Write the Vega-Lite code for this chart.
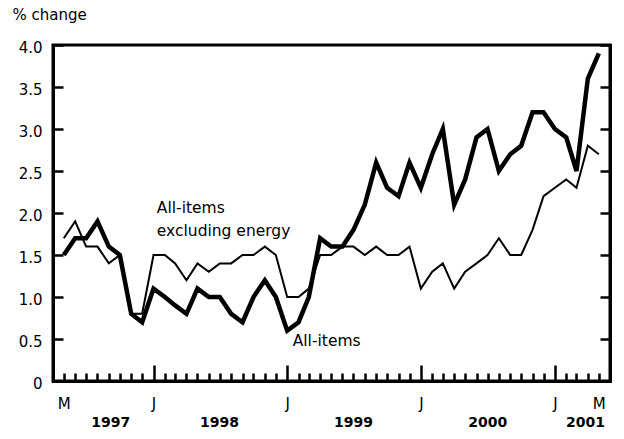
{
  "$schema": "https://vega.github.io/schema/vega-lite/v6.json",
  "width": 557,
  "height": 336,
  "autosize": {"type": "none"},
  "padding": {"left": 53, "top": 45, "right": 14, "bottom": 58},
  "background": "white",
  "config": {
    "view": {"stroke": null},
    "font": "DejaVu Sans",
    "axis": {
      "labelFont": "DejaVu Sans",
      "labelFontSize": 15,
      "labelColor": "black",
      "tickColor": "black",
      "tickWidth": 2.5,
      "grid": false,
      "domain": true,
      "domainColor": "black",
      "domainWidth": 3,
      "domainCap": "square",
      "titleFont": "DejaVu Sans",
      "titleColor": "black"
    }
  },
  "data": {
    "values": [
      {"date": "1997-05-01", "all": 1.5, "ex": 1.7},
      {"date": "1997-06-01", "all": 1.7, "ex": 1.9},
      {"date": "1997-07-01", "all": 1.7, "ex": 1.6},
      {"date": "1997-08-01", "all": 1.9, "ex": 1.6},
      {"date": "1997-09-01", "all": 1.6, "ex": 1.4},
      {"date": "1997-10-01", "all": 1.5, "ex": 1.5},
      {"date": "1997-11-01", "all": 0.8, "ex": 0.8},
      {"date": "1997-12-01", "all": 0.7, "ex": 0.8},
      {"date": "1998-01-01", "all": 1.1, "ex": 1.5},
      {"date": "1998-02-01", "all": 1.0, "ex": 1.5},
      {"date": "1998-03-01", "all": 0.9, "ex": 1.4},
      {"date": "1998-04-01", "all": 0.8, "ex": 1.2},
      {"date": "1998-05-01", "all": 1.1, "ex": 1.4},
      {"date": "1998-06-01", "all": 1.0, "ex": 1.3},
      {"date": "1998-07-01", "all": 1.0, "ex": 1.4},
      {"date": "1998-08-01", "all": 0.8, "ex": 1.4},
      {"date": "1998-09-01", "all": 0.7, "ex": 1.5},
      {"date": "1998-10-01", "all": 1.0, "ex": 1.5},
      {"date": "1998-11-01", "all": 1.2, "ex": 1.6},
      {"date": "1998-12-01", "all": 1.0, "ex": 1.5},
      {"date": "1999-01-01", "all": 0.6, "ex": 1.0},
      {"date": "1999-02-01", "all": 0.7, "ex": 1.0},
      {"date": "1999-03-01", "all": 1.0, "ex": 1.1},
      {"date": "1999-04-01", "all": 1.7, "ex": 1.5},
      {"date": "1999-05-01", "all": 1.6, "ex": 1.5},
      {"date": "1999-06-01", "all": 1.6, "ex": 1.6},
      {"date": "1999-07-01", "all": 1.8, "ex": 1.6},
      {"date": "1999-08-01", "all": 2.1, "ex": 1.5},
      {"date": "1999-09-01", "all": 2.6, "ex": 1.6},
      {"date": "1999-10-01", "all": 2.3, "ex": 1.5},
      {"date": "1999-11-01", "all": 2.2, "ex": 1.5},
      {"date": "1999-12-01", "all": 2.6, "ex": 1.6},
      {"date": "2000-01-01", "all": 2.3, "ex": 1.1},
      {"date": "2000-02-01", "all": 2.7, "ex": 1.3},
      {"date": "2000-03-01", "all": 3.0, "ex": 1.4},
      {"date": "2000-04-01", "all": 2.1, "ex": 1.1},
      {"date": "2000-05-01", "all": 2.4, "ex": 1.3},
      {"date": "2000-06-01", "all": 2.9, "ex": 1.4},
      {"date": "2000-07-01", "all": 3.0, "ex": 1.5},
      {"date": "2000-08-01", "all": 2.5, "ex": 1.7},
      {"date": "2000-09-01", "all": 2.7, "ex": 1.5},
      {"date": "2000-10-01", "all": 2.8, "ex": 1.5},
      {"date": "2000-11-01", "all": 3.2, "ex": 1.8},
      {"date": "2000-12-01", "all": 3.2, "ex": 2.2},
      {"date": "2001-01-01", "all": 3.0, "ex": 2.3},
      {"date": "2001-02-01", "all": 2.9, "ex": 2.4},
      {"date": "2001-03-01", "all": 2.5, "ex": 2.3},
      {"date": "2001-04-01", "all": 3.6, "ex": 2.8},
      {"date": "2001-05-01", "all": 3.9, "ex": 2.7}
    ]
  },
  "layer": [
    {
      "mark": {"type": "line", "color": "black", "strokeWidth": 2, "strokeJoin": "miter", "clip": false},
      "encoding": {
        "x": {
          "field": "date",
          "type": "temporal",
          "scale": {
            "type": "utc",
            "domain": [
              {"year": 1997, "month": 4, "date": 1, "hours": 12, "utc": true},
              {"year": 2001, "month": 5, "date": 31, "hours": 12, "utc": true}
            ]
          },
          "axis": {
            "orient": "bottom",
            "title": null,
            "tickCount": {"interval": "month", "step": 1},
            "tickSize": {"condition": {"test": "utcmonth(datum.value) === 0", "value": -16}, "value": -8},
            "labelPadding": {"condition": {"test": "utcmonth(datum.value) === 0", "value": 31}, "value": 23},
            "labelExpr": "utcmonth(datum.value) === 0 ? 'J' : ((utcmonth(datum.value) === 4 && (utcyear(datum.value) === 1997 || utcyear(datum.value) === 2001)) ? 'M' : '')",
            "labelBaseline": "top",
            "labelAlign": "center",
            "labelFlush": false,
            "labelOverlap": false,
            "labelBound": false
          }
        },
        "y": {
          "field": "ex",
          "type": "quantitative",
          "scale": {"domain": [0, 4], "nice": false, "zero": true},
          "axis": {
            "orient": "left",
            "values": [0, 0.5, 1, 1.5, 2, 2.5, 3, 3.5, 4],
            "labelExpr": "datum.value === 0 ? '0' : format(datum.value, '.1f')",
            "tickSize": -10,
            "labelPadding": 21,
            "labelBaseline": "middle",
            "labelOffset": 2,
            "labelFlush": false,
            "labelOverlap": false,
            "title": "% change",
            "titleAngle": 0,
            "titleAlign": "left",
            "titleBaseline": "alphabetic",
            "titleFontWeight": "normal",
            "titleFontSize": 15,
            "titleX": -41,
            "titleY": -26
          }
        }
      }
    },
    {
      "mark": {"type": "line", "color": "black", "strokeWidth": 4.5, "strokeJoin": "miter", "clip": false},
      "encoding": {
        "x": {
          "field": "date",
          "type": "temporal",
          "axis": {
            "orient": "bottom",
            "title": null,
            "ticks": false,
            "domain": false,
            "values": [
              {"year": 1997, "month": 9, "date": 5, "utc": true},
              {"year": 1998, "month": 6, "date": 29, "utc": true},
              {"year": 1999, "month": 6, "date": 30, "utc": true},
              {"year": 2000, "month": 6, "date": 30, "utc": true},
              {"year": 2001, "month": 3, "date": 24, "utc": true}
            ],
            "format": "%Y",
            "labelFontWeight": "bold",
            "labelFontSize": 14,
            "labelPadding": 34,
            "labelBaseline": "top",
            "labelFlush": false,
            "labelOverlap": false,
            "labelBound": false
          }
        },
        "y": {
          "field": "all",
          "type": "quantitative",
          "axis": {
            "orient": "right",
            "values": [0, 0.5, 1, 1.5, 2, 2.5, 3, 3.5, 4],
            "labels": false,
            "tickSize": -10,
            "domain": true,
            "title": null
          }
        }
      }
    },
    {
      "data": {
        "values": [
          {"date": "1998-01-10", "v": 2.0, "label": "All-items\nexcluding energy"},
          {"date": "1999-01-16", "v": 0.42, "label": "All-items"}
        ]
      },
      "mark": {"type": "text", "align": "left", "baseline": "alphabetic", "fontSize": 15.5, "font": "DejaVu Sans", "color": "black", "lineBreak": "\n", "lineHeight": 23},
      "encoding": {
        "x": {"field": "date", "type": "temporal", "axis": null},
        "y": {"field": "v", "type": "quantitative", "axis": null},
        "text": {"field": "label"}
      }
    },
    {
      "data": {"values": [{"frame": "plot"}]},
      "mark": {"type": "rect", "filled": false, "stroke": "black", "strokeWidth": 3, "strokeJoin": "miter", "clip": false},
      "encoding": {
        "x": {"datum": {"year": 1997, "month": 4, "date": 1, "hours": 12, "utc": true}, "type": "temporal", "axis": null},
        "x2": {"datum": {"year": 2001, "month": 5, "date": 31, "hours": 12, "utc": true}},
        "y": {"datum": 0, "type": "quantitative", "axis": null},
        "y2": {"datum": 4}
      }
    }
  ],
  "resolve": {"axis": {"x": "independent", "y": "independent"}}
}
